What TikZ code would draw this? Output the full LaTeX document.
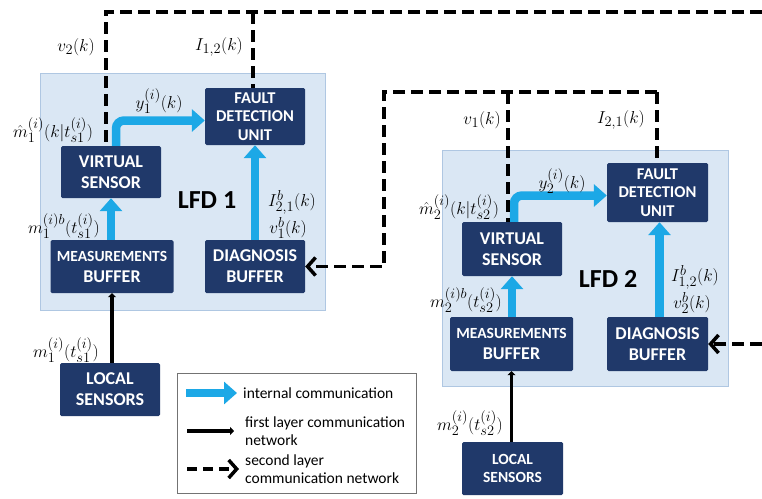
\documentclass[tikz,border=0pt]{standalone}
\usepackage{fontspec}
\setsansfont{Carlito}
\usetikzlibrary{arrows.meta}
\definecolor{navy}{HTML}{20396A}
\definecolor{lfdfill}{HTML}{DAE7F4}
\definecolor{lfdline}{HTML}{AFC7E2}
\definecolor{intblue}{HTML}{1CA8E6}
\begin{document}
\begin{tikzpicture}[x=1pt,y=-1pt,
 blk/.style={fill=navy, text=white, font=\sffamily\bfseries\fontsize{18}{21}\selectfont, align=center, inner sep=0pt, rounded corners=1.5pt},
 fdu/.style={blk, font=\sffamily\bfseries\fontsize{16.5}{18.5}\selectfont},
 lfd/.style={fill=lfdfill, draw=lfdline, line width=1pt},
 intarr/.style={draw=intblue, line width=8.5pt, -{Triangle[length=13pt,width=22pt]}},
 netone/.style={line width=3.5pt, -{Triangle[length=4pt,width=8pt]}},
 nettwo/.style={line width=3.5pt, dash pattern=on 12pt off 6pt},
 barb/.style={-{Straight Barb[length=8pt,width=18pt]}},
 lbl/.style={font=\fontsize{19}{21}\selectfont, inner sep=0.5pt},
 big/.style={font=\sffamily\bfseries\fontsize{26}{28}\selectfont, inner sep=0pt},
 legtxt/.style={font=\sffamily\fontsize{15.5}{18}\selectfont, inner sep=0pt, align=left, anchor=west},
]
\useasboundingbox (0,0) rectangle (762,498);
% LFD boxes
\node[lfd, minimum width=285pt, minimum height=237pt, inner sep=0pt] (lfdA) at (182.5,191.5) {};
\node[lfd, minimum width=286pt, minimum height=236pt, inner sep=0pt] (lfdB) at (585,268) {};
% LFD 1 blocks
\node[blk, minimum width=100pt, minimum height=52pt] (VS1) at (111,172) {VIRTUAL\\SENSOR};
\node[fdu, minimum width=100pt, minimum height=57pt] (FDU1) at (255,116.5) {FAULT\\DETECTION\\UNIT};
\node[blk, minimum width=123pt, minimum height=53pt] (MB1) at (112,266.5) {{\fontsize{15.5}{17}\selectfont MEASUREMENTS}\\BUFFER};
\node[blk, minimum width=100pt, minimum height=53pt] (DB1) at (255,266.5) {DIAGNOSIS\\BUFFER};
\node[blk, minimum width=100pt, minimum height=53pt] (LS1) at (110,389.5) {LOCAL\\SENSORS};
\node[big] (T1) at (207,200) {LFD 1};
% LFD 2 blocks
\node[blk, minimum width=100pt, minimum height=54pt] (VS2) at (512,249) {VIRTUAL\\SENSOR};
\node[fdu, minimum width=101pt, minimum height=59pt] (FDU2) at (657.5,192.5) {FAULT\\DETECTION\\UNIT};
\node[blk, minimum width=123pt, minimum height=54pt] (MB2) at (511.5,344) {{\fontsize{15.5}{17}\selectfont MEASUREMENTS}\\BUFFER};
\node[blk, minimum width=101pt, minimum height=54pt] (DB2) at (657.5,344) {DIAGNOSIS\\BUFFER};
\node[blk, minimum width=101pt, minimum height=53pt, font=\sffamily\bfseries\fontsize{15.5}{17.5}\selectfont] (LS2) at (512.5,468.5) {LOCAL\\SENSORS};
\node[big] (T2) at (608,279) {LFD 2};
% internal arrows LFD 1
\draw[intarr, rounded corners=8pt] ([xshift=5pt]VS1.north) |- ([yshift=-4pt]FDU1.west);
\draw[intarr] (MB1.north -| VS1.south) -- (VS1.south);
\draw[intarr] (DB1.north) -- (FDU1.south);
\draw[netone] (LS1.north -| MB1.south) -- (MB1.south);
% internal arrows LFD 2
\draw[intarr, rounded corners=8pt] ([xshift=2pt]VS2.north) |- ([yshift=-3pt]FDU2.west);
\draw[intarr] (MB2.north -| VS2.south) -- (VS2.south);
\draw[intarr] ([xshift=2pt]DB2.north) -- ([xshift=2pt]FDU2.south);
\draw[netone] (LS2.north -| MB2.south) -- (MB2.south);
% second layer network
\coordinate (n1L) at (106,12);
\coordinate (n1M) at (253,12);
\coordinate (n1R) at (762,12);
\coordinate (n2L) at (384,92);
\coordinate (n2M) at (508,92);
\coordinate (n2R) at (657,92);
\coordinate (n3R) at (762,344);
\draw[nettwo] (n1R) -- (n1L) -- (n1L |- VS1.north);
\draw[nettwo] (n1M) -- (n1M |- FDU1.north);
\draw[nettwo, barb] (n2R) -- (n2L) -- (n2L |- DB1.east) -- (DB1.east);
\draw[nettwo] (n2M) -- (n2M |- VS2.north);
\draw[nettwo] (n2R) -- (n2R |- FDU2.north);
\draw[nettwo, barb] (n3R) -- (DB2.east);
% labels LFD 1
\node[lbl] (lv2) at (76,47) {$v_2(k)$};
\node[lbl] (lI12) at (219,47) {$I_{1,2}(k)$};
\node[lbl] (ly1) at (159,101) {$y_1^{(i)}(k)$};
\node[lbl] (lmh1) at (53,130) {$\hat{m}_1^{(i)}(k|t_{s1}^{(i)})$};
\node[lbl] (lIb21) at (292,202) {$I^b_{2,1}(k)$};
\node[lbl] (lvb1) at (288,228) {$v^b_1(k)$};
\node[lbl] (lmb1) at (64,226) {$m_1^{(i)b}(t_{s1}^{(i)})$};
\node[lbl] (lm1) at (66,350) {$m_1^{(i)}(t_{s1}^{(i)})$};
% labels LFD 2
\node[lbl] (lv1) at (482,120) {$v_1(k)$};
\node[lbl] (lI21) at (621,120) {$I_{2,1}(k)$};
\node[lbl] (ly2) at (562,181) {$y_2^{(i)}(k)$};
\node[lbl] (lmh2) at (459,207) {$\hat{m}_2^{(i)}(k|t_{s2}^{(i)})$};
\node[lbl] (lIb12) at (695,277) {$I^b_{1,2}(k)$};
\node[lbl] (lvb2) at (692,303) {$v^b_2(k)$};
\node[lbl] (lmb2) at (466,300) {$m_2^{(i)b}(t_{s2}^{(i)})$};
\node[lbl] (lm2) at (470,423) {$m_2^{(i)}(t_{s2}^{(i)})$};
% legend
\node[draw=black!55, fill=white, line width=0.8pt, minimum width=239pt, minimum height=120pt, inner sep=0pt] (leg) at (296.5,433) {};
\coordinate (la1) at (186,393);
\coordinate (lb1) at (237,393);
\coordinate (la2) at (187,431);
\coordinate (lb2) at (234,431);
\coordinate (la3) at (187,469);
\coordinate (lb3) at (239,469);
\draw[intarr] (la1) -- (lb1);
\draw[netone] (la2) -- (lb2);
\draw[nettwo, barb, dash pattern=on 10pt off 6pt] (la3) -- (lb3);
\node[legtxt] (lt1) at (243,393) {internal communication};
\node[legtxt] (lt2) at (245,431) {first layer communication\\network};
\node[legtxt] (lt3) at (245,469) {second layer\\communication network};
\end{tikzpicture}
\end{document}
